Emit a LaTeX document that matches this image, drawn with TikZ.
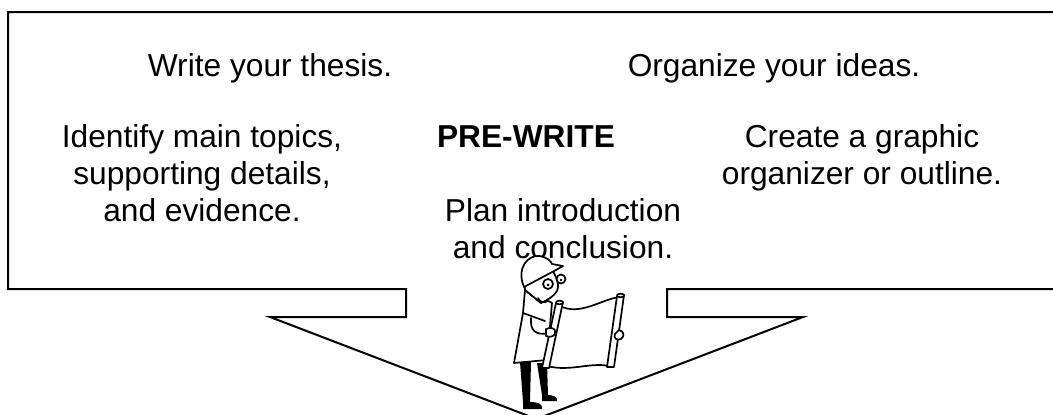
\documentclass[tikz,border=0pt]{standalone}
\usepackage{fontspec}
\setmainfont{Liberation Sans}
\tikzset{
idea/.style={
    align=center,
    inner sep=0pt,
    anchor=base,
    font=\fontsize{31.7}{37}\selectfont
},
frame/.style={
    draw=black,
    line width=2pt,
    line join=miter
},
ink/.style={
    draw=black,
    fill=white,
    line width=1.7pt,
    line join=round,
    line cap=round
}}

\begin{document}
\begin{tikzpicture}[x=1pt, y=-1pt]
    \useasboundingbox (0,0) rectangle (1053,415);
    \clip (0,0) rectangle (1053,415);

    % box and arrow outline
    \coordinate (TR) at (1060,12);
    \coordinate (TL) at (8,12);
    \coordinate (BL) at (8,289);
    \coordinate (SL) at (406,289);
    \coordinate (NL) at (406,317);
    \coordinate (WL) at (270,317);
    \coordinate (tip) at (536.5,419);
    \coordinate (WR) at (803,317);
    \coordinate (NR) at (667,317);
    \coordinate (SR) at (667,289);
    \coordinate (BR) at (1060,289);
    \draw[frame] (TR) -- (TL) -- (BL) -- (SL) -- (NL) -- (WL) -- (tip)
        -- (WR) -- (NR) -- (SR) -- (BR);

    % text placement (base = last line)
    \node[idea] (thesis) at (270,76) {Write your thesis.};
    \node[idea] (organize) at (774,76) {Organize your ideas.};
    \node[idea] (topics) at (202,221) {Identify main topics,\\supporting details,\\and evidence.};
    \node[idea, font=\fontsize{31.7}{37}\selectfont\bfseries] (prewrite) at (526,147) {PRE-WRITE};
    \node[idea] (graphic) at (862,184) {Create a graphic\\organizer or outline.};
    \node[idea] (plan) at (563,258) {Plan introduction\\and conclusion.};

    % worker with the plan
    % sheet
    \draw[ink] (560,306) .. controls (580,316) and (600,300) .. (619,297)
        -- (609,366) .. controls (590,362) and (570,372) .. (547,366) -- cycle;
    % legs
    \fill (520,362) -- (531,362) -- (530,402) .. controls (538,402) and (543,404) .. (542,409)
        -- (523,409) -- (523,402) -- cycle;
    \fill (537,363) -- (547,363) -- (548,395) .. controls (553,395) and (558,397) .. (557,401)
        -- (542,401) -- (542,395) -- cycle;
    % coat
    \draw[ink] (525,290) -- (523,313) -- (514,363) -- (547,360) -- (552,303)
        .. controls (548,300) and (544,300) .. (541,303) -- cycle;
    \draw[ink, fill=none] (523,313) -- (545,321);
    \draw[ink, fill=none] (531,318) .. controls (530,330) and (535,336) .. (549,333);
    % head
    \draw[ink] (525,290) -- (524,280) -- (551,268)
        .. controls (556,276) and (560,284) .. (557,291)
        .. controls (554,296) and (548,300) .. (541,303) -- cycle;
    \draw[ink, fill=none] (538,298) .. controls (540,302) and (543,303) .. (546,302);
    % glasses
    \draw[ink] (548,284) circle (5);
    \draw[ink] (561,279) circle (4.5);
    \fill (548,285) circle (1.5);
    \fill (561,280) circle (1.4);
    % helmet
    \draw[ink] (524,287) .. controls (516,268) and (528,255) .. (539,256)
        .. controls (547,257) and (551,261) .. (552,264) -- (563,266) -- (556,270) -- cycle;
    % left roll
    \draw[ink] (556,303) -- (563,302) -- (549,368) -- (542,368) -- cycle;
    \draw[ink] (559.5,302.5) ellipse (3.6 and 1.8);
    \draw[ink] (546,329) .. controls (550,327) and (556,328) .. (555,332)
        .. controls (556,336) and (550,338) .. (546,336) -- cycle;
    % right roll
    \draw[ink] (617,296) -- (624,295) -- (614,367) -- (607,367) -- cycle;
    \draw[ink] (620.5,295.5) ellipse (3.6 and 1.8);
    \draw[ink] (619,330) .. controls (624,331) and (625,336) .. (621,339)
        .. controls (617,341) and (613,338) .. (615,334) -- cycle;

\end{tikzpicture}
\end{document}
